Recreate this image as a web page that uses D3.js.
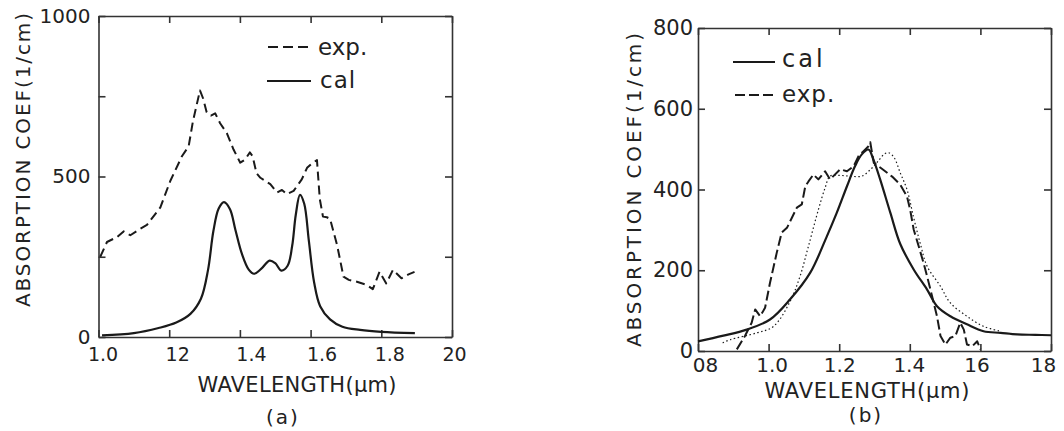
<!DOCTYPE html>
<html>
<head>
<meta charset="utf-8">
<script src="https://cdnjs.cloudflare.com/ajax/libs/d3/7.8.5/d3.min.js"></script>
<style>
body { margin: 0; background: #fff; }
svg text { font-family: "DejaVu Sans", sans-serif; fill: #222; }
</style>
</head>
<body>
<svg id="chart" width="1064" height="431"></svg>
<script>
// ---- panel (a) data ----
var aCalX = [1.01, 1.10, 1.17, 1.22, 1.26, 1.29, 1.31, 1.325, 1.34, 1.355, 1.372, 1.387, 1.406, 1.425, 1.44, 1.46, 1.484, 1.50, 1.517, 1.535, 1.548, 1.558, 1.570, 1.582, 1.595, 1.61, 1.627, 1.655, 1.69, 1.74, 1.80, 1.895];
var aCalY = [5, 12, 28, 45, 72, 120, 210, 330, 400, 420, 398, 335, 258, 210, 197, 212, 238, 230, 207, 222, 285, 380, 443, 415, 300, 170, 96, 55, 32, 22, 16, 12];

var aExpX = [1.005, 1.024, 1.052, 1.071, 1.09, 1.118, 1.137, 1.175, 1.203, 1.236, 1.255, 1.267, 1.287, 1.296, 1.306, 1.318, 1.33, 1.344, 1.363, 1.382, 1.401, 1.415, 1.428, 1.436, 1.447, 1.458, 1.472, 1.486, 1.505, 1.519, 1.533, 1.552, 1.575, 1.59, 1.604, 1.618, 1.626, 1.635, 1.646, 1.655, 1.675, 1.693, 1.708, 1.731, 1.759, 1.776, 1.795, 1.814, 1.833, 1.857, 1.877, 1.894];
var aExpY = [250, 296, 311, 329, 317, 337, 349, 404, 486, 563, 594, 671, 768, 743, 700, 690, 697, 666, 635, 584, 543, 553, 575, 563, 510, 496, 486, 476, 450, 458, 445, 455, 491, 527, 541, 551, 430, 375, 373, 368, 286, 188, 178, 172, 162, 149, 203, 167, 209, 183, 195, 203];

var aXTicks = [1.0, 1.2, 1.4, 1.6, 1.8, 2.0];
var aXLabels = ["1.0", "12", "1.4", "1.6", "1.8", "20"];
var aYTicks = [0, 250, 500, 750, 1000];
var aYLabels = ["0", "", "500", "", "1000"];

// ---- panel (b) data ----
var bCalX = [0.80, 0.872, 0.938, 1.004, 1.061, 1.118, 1.165, 1.193, 1.222, 1.245, 1.264, 1.283, 1.297, 1.316, 1.345, 1.373, 1.411, 1.449, 1.477, 1.515, 1.562, 1.609, 1.657, 1.704, 1.756, 1.80];
var bCalY = [24, 38, 53, 78, 128, 194, 284, 342, 408, 458, 487, 499, 474, 425, 342, 265, 202, 152, 111, 86, 66, 49, 45, 41, 40, 39];

var bExpX = [0.910, 0.933, 0.952, 0.962, 0.976, 0.990, 1.004, 1.023, 1.037, 1.052, 1.066, 1.080, 1.094, 1.104, 1.113, 1.127, 1.141, 1.160, 1.174, 1.203, 1.222, 1.241, 1.255, 1.269, 1.283, 1.288, 1.293, 1.298, 1.32, 1.35, 1.373, 1.392, 1.401, 1.411, 1.425, 1.439, 1.449, 1.463, 1.477, 1.487, 1.501, 1.515, 1.529, 1.543, 1.553, 1.562, 1.577, 1.591, 1.600];
var bExpY = [4, 37, 70, 103, 86, 107, 169, 243, 293, 305, 330, 355, 363, 408, 420, 437, 425, 445, 425, 450, 445, 458, 483, 495, 507, 517, 491, 466, 452, 432, 412, 383, 350, 301, 260, 218, 185, 136, 86, 37, 16, 33, 37, 70, 53, 16, 12, 24, 4];

var bDotX = [0.87, 0.891, 0.967, 1.014, 1.061, 1.089, 1.113, 1.141, 1.160, 1.174, 1.20, 1.231, 1.264, 1.288, 1.31, 1.328, 1.340, 1.355, 1.373, 1.392, 1.411, 1.43, 1.449, 1.487, 1.515, 1.562, 1.609, 1.657];
var bDotY = [20, 28, 45, 61, 123, 185, 260, 350, 404, 433, 435, 433, 433, 449, 470, 488, 491, 480, 441, 400, 330, 265, 210, 160, 119, 86, 61, 49];

var bXTicks = [0.8, 1.0, 1.2, 1.4, 1.6, 1.8];
var bXLabels = ["08", "1.0", "1.2", "1.4", "16", "18"];
var bYTicks = [0, 200, 400, 600, 800];
var bYLabels = ["0", "200", "400", "600", "800"];

var svg = d3.select("#chart");
svg.append("rect").attr("width", 1064).attr("height", 431).attr("fill", "#fff");

function styleAxis(sel) {
    sel.attr("font-family", null).attr("font-size", null);
    sel.selectAll(".domain, .tick line").attr("stroke", "#333").attr("stroke-width", 1.6);
}

function drawPanel(p) {
    var x = d3.scaleLinear().domain(p.xDomain).range([p.left, p.right]);
    var y = d3.scaleLinear().domain(p.yDomain).range([p.bottom, p.top]);
    var g = svg.append("g");

    // bottom axis, labelled, ticks pointing in
    var bx = g.append("g").attr("transform", "translate(0," + p.bottom + ")")
        .call(d3.axisBottom(x).tickValues(p.xTicks).tickSize(-7).tickSizeOuter(0)
            .tickPadding(p.xPad).tickFormat(function(d, i) { return p.xLabels[i]; }));
    styleAxis(bx);
    bx.selectAll("text")
        .attr("dx", function(d, i) { return p.xLabelDx[i]; })
        .style("font-size", p.xFont + "px");

    // left axis
    var ly = g.append("g").attr("transform", "translate(" + p.left + ",0)")
        .call(d3.axisLeft(y).tickValues(p.yTicks).tickSize(-7).tickSizeOuter(0)
            .tickPadding(p.yPad).tickFormat(function(d, i) { return p.yLabels[i]; }));
    styleAxis(ly);
    ly.selectAll("text").style("font-size", p.yFont + "px");

    // top and right frame with inner ticks
    var tx = g.append("g").attr("transform", "translate(0," + p.top + ")")
        .call(d3.axisTop(x).tickValues(p.xTicks).tickSize(-7).tickSizeOuter(0).tickFormat(""));
    styleAxis(tx);
    var ry = g.append("g").attr("transform", "translate(" + p.right + ",0)")
        .call(d3.axisRight(y).tickValues(p.yTicks).tickSize(-7).tickSizeOuter(0).tickFormat(""));
    styleAxis(ry);

    // curves
    p.series.forEach(function(s) {
        var line = d3.line()
            .x(function(d) { return x(d[0]); })
            .y(function(d) { return y(d[1]); })
            .curve(s.curve);
        g.append("path")
            .attr("d", line(d3.zip(s.xs, s.ys)))
            .attr("fill", "none")
            .attr("stroke", "#1a1a1a")
            .attr("stroke-width", s.width)
            .attr("stroke-dasharray", s.dash)
            .attr("stroke-linejoin", "round");
    });

    // legend
    p.legend.forEach(function(l) {
        g.append("line")
            .attr("x1", l.x1).attr("x2", l.x2).attr("y1", l.y).attr("y2", l.y)
            .attr("stroke", "#1a1a1a").attr("stroke-width", 2)
            .attr("stroke-dasharray", l.dash);
        g.append("text")
            .attr("x", l.tx).attr("y", l.ty)
            .style("font-size", l.size + "px")
            .style("letter-spacing", l.spacing + "px")
            .text(l.label);
    });

    // axis titles
    g.append("text")
        .attr("transform", "translate(" + p.yTitle.x + "," + p.yTitle.y + ") rotate(-90)")
        .attr("text-anchor", "middle")
        .attr("textLength", p.yTitle.len).attr("lengthAdjust", "spacing")
        .style("font-size", "20px")
        .text(p.yTitle.text);
    g.append("text")
        .attr("x", p.xTitle.x).attr("y", p.xTitle.y)
        .attr("text-anchor", "middle")
        .attr("textLength", p.xTitle.len).attr("lengthAdjust", "spacing")
        .style("font-size", "21px")
        .text("WAVELENGTH(\u03bcm)");
    g.append("text")
        .attr("x", p.tag.x).attr("y", p.tag.y)
        .attr("text-anchor", "middle")
        .style("font-size", "20px")
        .style("letter-spacing", "2px")
        .text(p.tag.text);
}

drawPanel({
    left: 98.5, right: 452, top: 16, bottom: 337,
    xDomain: [1.0, 2.0], yDomain: [0, 1000],
    xTicks: aXTicks, xLabels: aXLabels, yTicks: aYTicks, yLabels: aYLabels,
    xPad: 11, xLabelDx: [4, 8, 11, 11, 8, 2], xFont: 19, yPad: 8, yFont: 20,
    series: [
        { xs: aExpX, ys: aExpY, dash: "9,5", width: 2, curve: d3.curveLinear },
        { xs: aCalX, ys: aCalY, dash: null, width: 2.2, curve: d3.curveCatmullRom }
    ],
    legend: [
        { x1: 268, x2: 311, y: 47, dash: "10,5", tx: 318, ty: 55, size: 23, spacing: 0, label: "exp." },
        { x1: 267, x2: 311, y: 81, dash: null, tx: 320, ty: 88, size: 23, spacing: 1, label: "cal" }
    ],
    yTitle: { x: 30, y: 160, len: 294, text: "ABSORPTION COEF(1/cm)" },
    xTitle: { x: 297, y: 392, len: 199 },
    tag: { x: 283, y: 424, text: "(a)" }
});

drawPanel({
    left: 698, right: 1051, top: 28, bottom: 351,
    xDomain: [0.8, 1.8], yDomain: [0, 800],
    xTicks: bXTicks, xLabels: bXLabels, yTicks: bYTicks, yLabels: bYLabels,
    xPad: 7, xLabelDx: [7, 3, 0, -1, -4, -8], xFont: 20, yPad: 5, yFont: 21,
    series: [
        { xs: bDotX, ys: bDotY, dash: "1.5,2.5", width: 1.2, curve: d3.curveCatmullRom },
        { xs: bExpX, ys: bExpY, dash: "10,4", width: 2, curve: d3.curveLinear },
        { xs: bCalX, ys: bCalY, dash: null, width: 2.2, curve: d3.curveCatmullRom }
    ],
    legend: [
        { x1: 733, x2: 775, y: 62, dash: null, tx: 782, ty: 67, size: 24, spacing: 3, label: "cal" },
        { x1: 735, x2: 777, y: 95, dash: "10,4", tx: 782, ty: 102, size: 23, spacing: 1, label: "exp." }
    ],
    yTitle: { x: 641, y: 190, len: 314, text: "ABSORPTION  COEF(1/cm)" },
    xTitle: { x: 867, y: 398, len: 205 },
    tag: { x: 866, y: 422, text: "(b)" }
});
</script>
</body>
</html>
